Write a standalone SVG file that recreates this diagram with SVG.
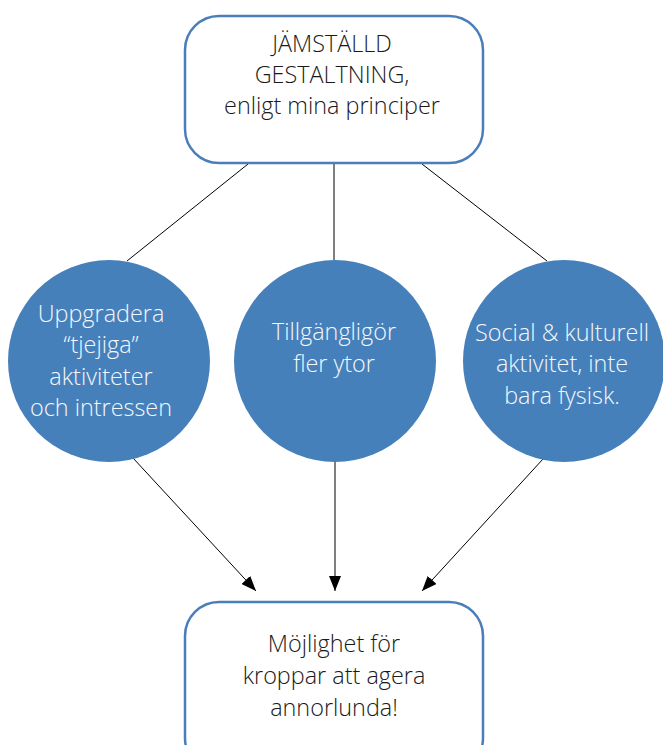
<svg xmlns="http://www.w3.org/2000/svg" width="663" height="745" viewBox="0 0 663 745">
<defs>
<style>
.box{fill:#fff;stroke:#4a7ebb;stroke-width:2.5}
.circ{fill:#4680bb;stroke:none}
.t{font-family:"Open Sans",Lato,"Liberation Sans",sans-serif;font-weight:300;font-size:23.4px;text-anchor:middle}
.dark{fill:#1a1a1a}
.light{fill:#f4f7fb}
.ln{stroke:#000;stroke-width:1;fill:none}
</style>
<marker id="ah" markerUnits="userSpaceOnUse" markerWidth="16" markerHeight="12" refX="15" refY="6" orient="auto">
<path d="M0,0 L15,6 L0,12 Z" fill="#000"/>
</marker>
</defs>
<rect width="663" height="745" fill="#fff"/>
<g id="connectors">
<line class="ln" x1="248" y1="164" x2="127" y2="261"/>
<line class="ln" x1="334" y1="164" x2="334" y2="260"/>
<line class="ln" x1="422" y1="164" x2="547" y2="261"/>
<line class="ln" x1="133" y1="458" x2="256" y2="591" marker-end="url(#ah)"/>
<line class="ln" x1="335" y1="462" x2="335" y2="591" marker-end="url(#ah)"/>
<line class="ln" x1="543" y1="459" x2="422" y2="591" marker-end="url(#ah)"/>
</g>
<g id="top">
<rect class="box" x="185" y="16" width="298" height="147" rx="34" ry="34"/>
<text class="t dark" x="333"><tspan x="332" y="52">JÄMSTÄLLD</tspan><tspan x="332" y="83">GESTALTNING,</tspan><tspan x="332" y="114">enligt mina principer</tspan></text>
</g>
<g id="c1">
<ellipse class="circ" cx="109" cy="361" rx="101" ry="101"/>
<text class="t light"><tspan x="101" y="322">Uppgradera</tspan><tspan x="101" y="353">“tjejiga”</tspan><tspan x="101" y="385">aktiviteter</tspan><tspan x="101" y="416">och intressen</tspan></text>
</g>
<g id="c2">
<ellipse class="circ" cx="335" cy="361" rx="101" ry="101"/>
<text class="t light"><tspan x="334" y="340">Tillgängligör</tspan><tspan x="334" y="372">fler ytor</tspan></text>
</g>
<g id="c3">
<ellipse class="circ" cx="564" cy="361" rx="101" ry="101"/>
<text class="t light"><tspan x="562" y="341">Social &amp; kulturell</tspan><tspan x="562" y="372">aktivitet, inte</tspan><tspan x="562" y="404">bara fysisk.</tspan></text>
</g>
<g id="bottom">
<rect class="box" x="185" y="602" width="298" height="170" rx="34" ry="34"/>
<text class="t dark"><tspan x="334" y="652">Möjlighet för</tspan><tspan x="334" y="684">kroppar att agera</tspan><tspan x="334" y="716">annorlunda!</tspan></text>
</g>
</svg>
